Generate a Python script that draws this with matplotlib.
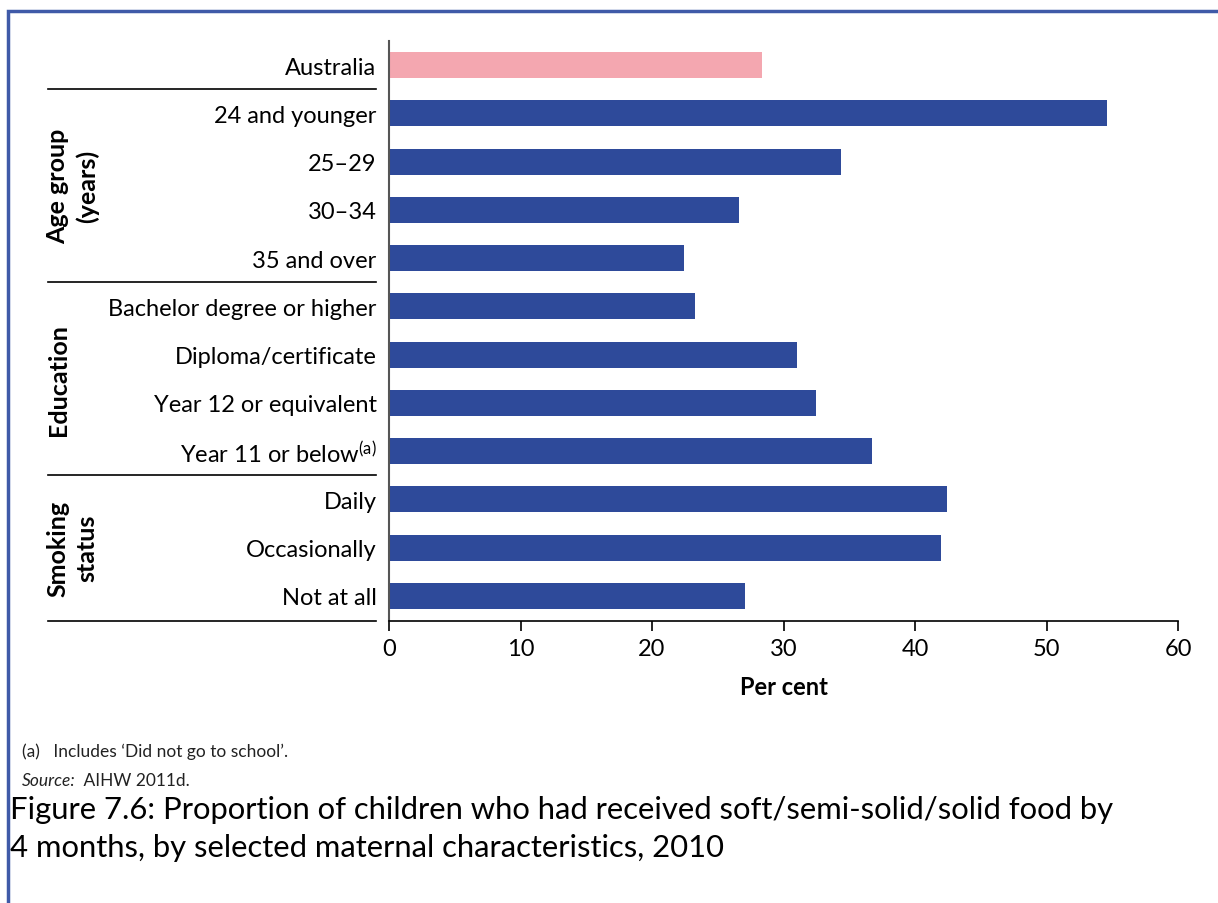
import matplotlib.pyplot as plt
from matplotlib.patches import Rectangle
import matplotlib.transforms as mtransforms

plt.rcParams['font.family'] = ['Lato', 'DejaVu Sans']
plt.rcParams['mathtext.default'] = 'regular'

# datos
categorias = ['Australia', '24 and younger', '25–29', '30–34', '35 and over',
              'Bachelor degree or higher', 'Diploma/certificate',
              'Year 12 or equivalent', 'Year 11 or below$^{(a)}$',
              'Daily', 'Occasionally', 'Not at all']
valores = [28.4, 54.6, 34.4, 26.6, 22.4, 23.3, 31.0, 32.5, 36.7, 42.4, 42.0, 27.1]
colores = ['#f4a7b0'] + ['#2e4a9a'] * 11

grupos = ['Age group\n(years)', 'Education', 'Smoking\nstatus']
grupo_rango = [(1, 4), (5, 8), (9, 11)]
separadores = [0.5, 4.5, 8.5, 11.52]

fig = plt.figure(figsize=(12.18, 9.04), dpi=100)
ax = fig.add_axes([0.3194, 0.3119, 0.6478, 0.6416])

pos = list(range(len(categorias)))
ax.barh(pos, valores, height=0.54, color=colores)
ax.set_ylim(11.52, -0.5)
ax.set_xlim(0, 60)
ax.set_xticks(range(0, 61, 10))
ax.set_yticks(pos)
ax.set_yticklabels(categorias, fontsize=17)
ax.tick_params(axis='y', length=0, pad=9)
ax.tick_params(axis='x', labelsize=17, length=7, width=1.2, direction='out', pad=5)
for s in ['top', 'right']:
    ax.spines[s].set_visible(False)
ax.spines['left'].set_linewidth(1.5)
ax.spines['left'].set_color('#555555')
ax.spines['bottom'].set_linewidth(1.2)
ax.set_xlabel('Per cent', fontsize=17, fontweight='bold', labelpad=12)

# lineas separadoras de grupos
trans = mtransforms.blended_transform_factory(ax.transAxes, ax.transData)
for y in separadores:
    ax.plot([-0.432, -0.0165], [y, y], transform=trans, color='black', lw=1.2, clip_on=False)

for nombre, (a, b) in zip(grupos, grupo_rango):
    ax.text(-0.434, (a + b) / 2, nombre, transform=trans, rotation=90, ha='left', va='center',
            fontsize=18, fontweight='bold', linespacing=1.3, multialignment='center')

# notas al pie
fig.text(0.018, 1 - 752 / 904, "(a)   Includes ‘Did not go to school’.", fontsize=12.5, va='center', color='#222222')
fig.text(0.018, 1 - 781 / 904, 'Source:', fontsize=12.5, style='italic', va='center', color='#222222')
fig.text(0.018 + 0.047, 1 - 781 / 904, ' AIHW 2011d.', fontsize=12.5, va='center', color='#222222')

fig.text(0.0086, 1 - 829 / 904,
         'Figure 7.6: Proportion of children who had received soft/semi-solid/solid food by\n'
         '4 months, by selected maternal characteristics, 2010',
         fontsize=22.3, va='center', linespacing=1.45)

# marco azul
fig.patches.append(Rectangle((0.0065, -0.01), 1.0, 0.997, transform=fig.transFigure,
                             fill=False, edgecolor='#3f5aa8', lw=2.5))

fig.savefig('out.png', dpi=100)
